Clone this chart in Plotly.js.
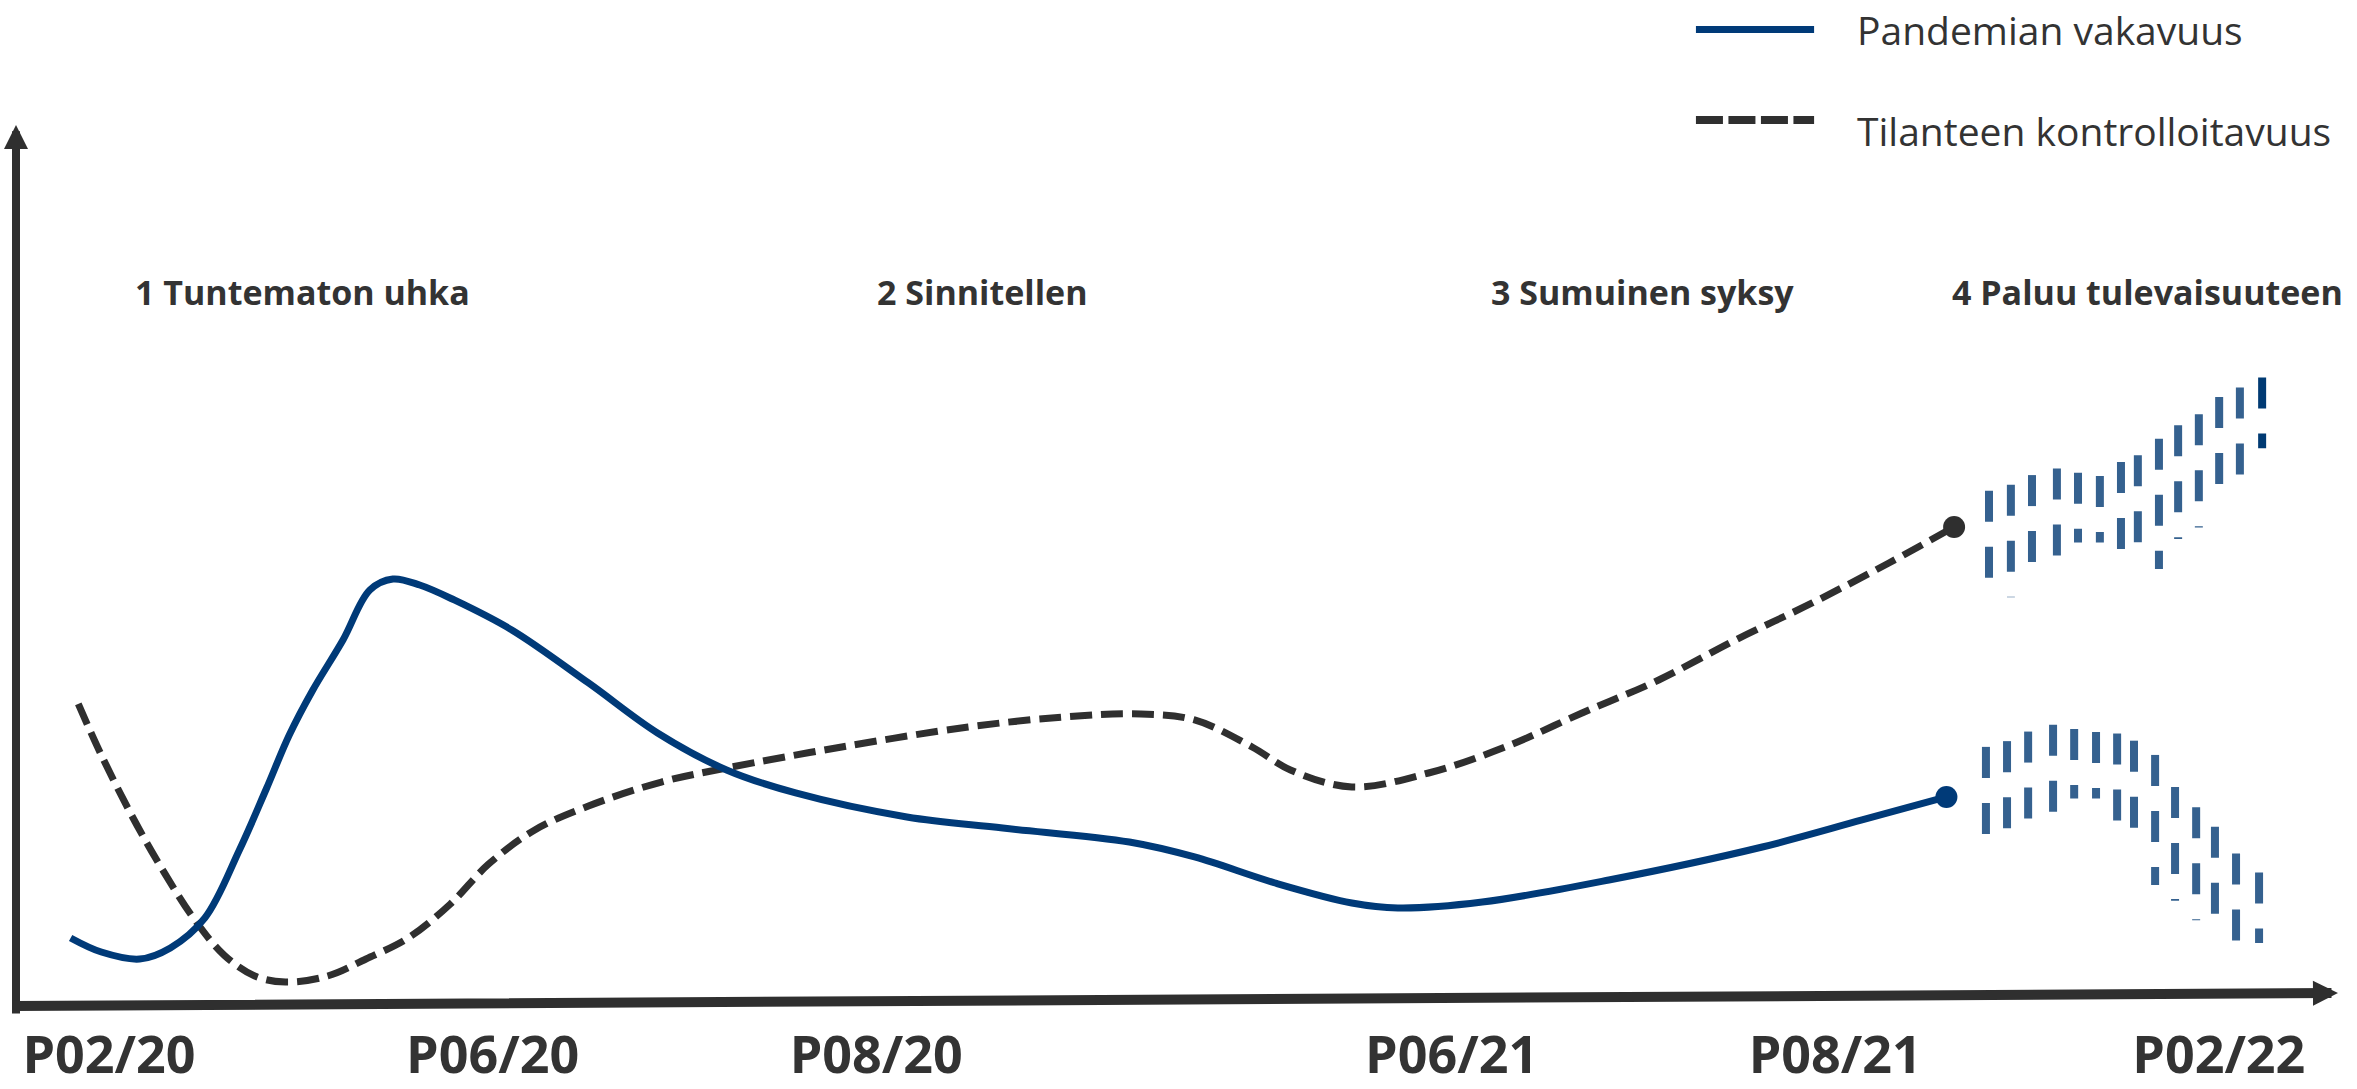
<!DOCTYPE html>
<html>
<head>
<meta charset="utf-8">
<script src="https://cdn.plot.ly/plotly-3.0.1.min.js"></script>
<style>
html,body{margin:0;padding:0;background:#ffffff;}
#chart{width:2357px;height:1089px;}
</style>
</head>
<body>
<div id="chart"></div>
<script>
// ---- data (x in period units, y in relative level 0..114) ----
const tickPos = [0, 1, 2, 3.5, 4.5, 5.5];
const tickLabels = ['P02/20', 'P06/20', 'P08/20', 'P06/21', 'P08/21', 'P02/22'];
const phaseLabels = ['1 Tuntematon uhka', '2 Sinnitellen', '3 Sumuinen syksy', '4 Paluu tulevaisuuteen'];
const seriesNames = ['Pandemian vakavuus', 'Tilanteen kontrolloitavuus'];

const severityX = [-0.10, -0.02, 0.08, 0.16, 0.25, 0.34, 0.41, 0.47, 0.53, 0.61, 0.68, 0.74, 0.81, 0.90, 1.05, 1.25, 1.43, 1.61, 1.79, 2.08, 2.33, 2.66, 2.83, 3.04, 3.24, 3.36, 3.58, 3.91, 4.31, 4.57, 4.79];
const severityY = [8.14, 6.55, 5.76, 7.01, 10.40, 18.08, 24.97, 31.07, 36.05, 41.81, 47.46, 48.70, 48.02, 46.33, 42.94, 36.95, 31.30, 27.12, 24.52, 21.81, 20.56, 18.98, 17.29, 14.35, 12.09, 11.53, 12.20, 14.69, 18.42, 21.47, 24.07];

const controlX = [-0.08, -0.02, 0.06, 0.14, 0.22, 0.30, 0.38, 0.46, 0.57, 0.67, 0.78, 0.89, 0.99, 1.11, 1.25, 1.44, 1.61, 1.91, 2.24, 2.49, 2.69, 2.83, 2.98, 3.08, 3.24, 3.44, 3.64, 3.84, 4.04, 4.24, 4.44, 4.64, 4.81];
const controlY = [34.58, 28.81, 21.92, 15.82, 10.40, 6.21, 3.84, 3.16, 3.84, 5.76, 8.14, 11.98, 16.50, 20.34, 23.05, 25.76, 27.34, 29.72, 31.98, 33.11, 33.45, 32.77, 29.72, 27.12, 25.20, 26.78, 29.72, 33.56, 37.29, 41.81, 45.99, 50.51, 54.58];

// uncertain future: hatched columns (top and bottom of each column)
const controlFutureX = [4.901, 4.958, 5.013, 5.078, 5.133, 5.190, 5.245, 5.289, 5.344, 5.394, 5.448, 5.501, 5.555, 5.613];
const controlFutureTop = [58.67, 59.36, 60.44, 61.18, 60.70, 60.35, 61.91, 62.69, 64.54, 66.06, 67.31, 69.25, 70.34, 71.46];
const controlFutureBottom = [46.69, 46.64, 48.63, 49.28, 52.82, 52.82, 50.36, 51.01, 49.84, 53.21, 54.51, 57.28, 58.58, 63.46];

const severityFutureX = [4.893, 4.948, 5.003, 5.068, 5.123, 5.180, 5.235, 5.279, 5.334, 5.386, 5.441, 5.490, 5.545, 5.605];
const severityFutureTop = [29.73, 30.38, 31.46, 32.24, 31.76, 31.42, 31.24, 30.43, 28.82, 25.20, 22.90, 20.70, 17.67, 15.55];
const severityFutureBottom = [18.15, 17.75, 19.66, 20.52, 23.90, 23.90, 19.66, 18.79, 14.12, 12.35, 10.15, 8.85, 7.34, 7.57];

// ---- styles ----
const BLUE = '#003a78';
const DARK = '#2f2f2f';
const HATCH = '#35618f';
const HATCH_DARK = '#003a73';
const TEXT = '#333333';
const FONT = 'Open Sans, Noto Sans, DejaVu Sans, sans-serif';

const traces = [];

function hatchColumns(xs, tops, bottoms, darkLast) {
  for (let i = 0; i < xs.length; i++) {
    traces.push({
      x: [xs[i], xs[i]],
      y: [tops[i], bottoms[i]],
      mode: 'lines',
      line: {color: (darkLast && i === xs.length - 1) ? HATCH_DARK : HATCH, width: 8, dash: '31px,25px'},
      showlegend: false,
      hoverinfo: 'skip'
    });
  }
}
hatchColumns(controlFutureX, controlFutureTop, controlFutureBottom, true);
hatchColumns(severityFutureX, severityFutureTop, severityFutureBottom, false);

traces.push({
  x: controlX, y: controlY, name: seriesNames[1], mode: 'lines',
  line: {color: DARK, width: 7, dash: '22px,9px', shape: 'spline', smoothing: 1},
  hoverinfo: 'skip'
});
traces.push({
  x: severityX, y: severityY, name: seriesNames[0], mode: 'lines',
  line: {color: BLUE, width: 7, shape: 'spline', smoothing: 1},
  hoverinfo: 'skip'
});
traces.push({
  x: [controlX[controlX.length - 1]], y: [controlY[controlY.length - 1]],
  mode: 'markers', marker: {size: 22, color: DARK}, showlegend: false, hoverinfo: 'skip'
});
traces.push({
  x: [severityX[severityX.length - 1]], y: [severityY[severityY.length - 1]],
  mode: 'markers', marker: {size: 22, color: BLUE}, showlegend: false, hoverinfo: 'skip'
});

const phaseX = [0.0626, 1.997, 3.597, 4.799];
const annotations = phaseLabels.map((t, i) => ({
  text: t, x: phaseX[i], y: 81.1, xref: 'x', yref: 'y',
  xanchor: 'left', yanchor: 'middle', showarrow: false,
  font: {family: FONT, size: 34, color: TEXT, weight: 700}
}));

// axis arrows
annotations.push({
  x: 0, y: 100, xref: 'paper', yref: 'y', text: '', showarrow: true,
  ax: 0, ay: 890, arrowhead: 2, arrowsize: 0.6, arrowwidth: 8, arrowcolor: DARK, standoff: 0
});
annotations.push({
  x: 5.8107, y: 1.92, xref: 'x', yref: 'y', text: '', showarrow: true,
  ax: -2326, ay: 13, arrowhead: 2, arrowsize: 0.5, arrowwidth: 10, arrowcolor: DARK, standoff: 0
});

// legend texts
annotations.push({
  text: seriesNames[0], x: 4.552, y: 110.8, xref: 'x', yref: 'y', xanchor: 'left', yanchor: 'middle',
  showarrow: false, font: {family: FONT, size: 39, color: TEXT}
});
annotations.push({
  text: seriesNames[1], x: 4.552, y: 99.4, xref: 'x', yref: 'y', xanchor: 'left', yanchor: 'middle',
  showarrow: false, font: {family: FONT, size: 39, color: TEXT}
});

const shapes = [
  {type: 'line', xref: 'x', yref: 'y', x0: 4.137, x1: 4.445, y0: 110.79, y1: 110.79, line: {color: BLUE, width: 7}},
  {type: 'line', xref: 'x', yref: 'y', x0: 4.137, x1: 4.445, y0: 100.56, y1: 100.56, line: {color: DARK, width: 8, dash: '27px,5.5px'}}
];

const layout = {
  width: 2357, height: 1089,
  margin: {l: 16, r: 0, t: 0, b: 79, pad: 0},
  paper_bgcolor: '#ffffff', plot_bgcolor: '#ffffff',
  showlegend: false,
  xaxis: {
    range: [-0.2424, 5.8603], tickmode: 'array', tickvals: tickPos, ticktext: tickLabels,
    showgrid: false, zeroline: false, showline: false, ticks: '',
    ticklabelstandoff: 10,
    tickfont: {family: FONT, size: 52, color: TEXT, weight: 700}
  },
  yaxis: {range: [0, 114.12], visible: false, showgrid: false, zeroline: false},
  annotations: annotations,
  shapes: shapes
};

Plotly.newPlot('chart', traces, layout, {staticPlot: true, displayModeBar: false});
</script>
</body>
</html>
